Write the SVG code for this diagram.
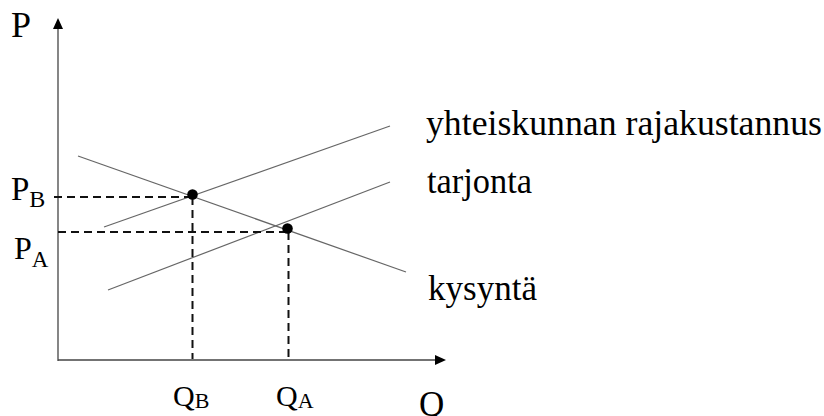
<svg xmlns="http://www.w3.org/2000/svg" width="824" height="416" viewBox="0 0 824 416">
<style>
.t{font-family:"Liberation Serif","Times New Roman",serif;fill:#000}
.ax{stroke:#444;stroke-width:1.3;fill:none}
.cv{stroke:#666;stroke-width:1.2;fill:none}
.da{stroke:#111;stroke-width:2;stroke-dasharray:8,5;fill:none}
.dot{fill:#000}
</style>
<rect width="824" height="416" fill="#fff"/>
<g id="axes">
<line class="ax" x1="58" y1="361" x2="58" y2="27"/>
<polygon points="58,18 53,29 63,29" fill="#000"/>
<line class="ax" x1="58" y1="360" x2="436" y2="360"/>
<polygon points="446,360 435,355 435,365" fill="#000"/>
</g>
<g id="connectors">
<line class="cv" x1="104" y1="227" x2="390" y2="126"/>
<line class="cv" x1="108" y1="290" x2="390" y2="182"/>
<line class="cv" x1="78" y1="156" x2="406" y2="272"/>
<line class="da" x1="54" y1="197" x2="192" y2="197"/>
<line class="da" x1="58" y1="232" x2="287" y2="232"/>
<line class="da" x1="192.5" y1="197" x2="192.5" y2="359"/>
<line class="da" x1="288.5" y1="232" x2="288.5" y2="359"/>
</g>
<g id="pointB"><circle class="dot" cx="192.5" cy="194.5" r="5.3"/></g>
<g id="pointA"><circle class="dot" cx="287.5" cy="228.5" r="5.3"/></g>
<g id="label-P"><text class="t" x="11" y="37" font-size="36">P</text></g>
<g id="label-PB"><text class="t" x="11" y="200" font-size="33">P<tspan font-size="24" dy="7">B</tspan></text></g>
<g id="label-PA"><text class="t" x="14" y="259" font-size="32">P<tspan font-size="23" dy="8">A</tspan></text></g>
<g id="label-QB"><text class="t" x="173" y="406" font-size="30">Q<tspan font-size="22" dy="2">B</tspan></text></g>
<g id="label-QA"><text class="t" x="276" y="406" font-size="30">Q<tspan font-size="22" dy="2">A</tspan></text></g>
<g id="label-Q"><text class="t" x="419" y="416" font-size="35">Q</text></g>
<g id="label-social"><text class="t" x="426" y="135" font-size="36" textLength="396" lengthAdjust="spacingAndGlyphs">yhteiskunnan rajakustannus</text></g>
<g id="label-supply"><text class="t" x="427" y="193" font-size="36" textLength="105" lengthAdjust="spacingAndGlyphs">tarjonta</text></g>
<g id="label-demand"><text class="t" x="428" y="300" font-size="36" textLength="109" lengthAdjust="spacingAndGlyphs">kysyntä</text></g>
</svg>
